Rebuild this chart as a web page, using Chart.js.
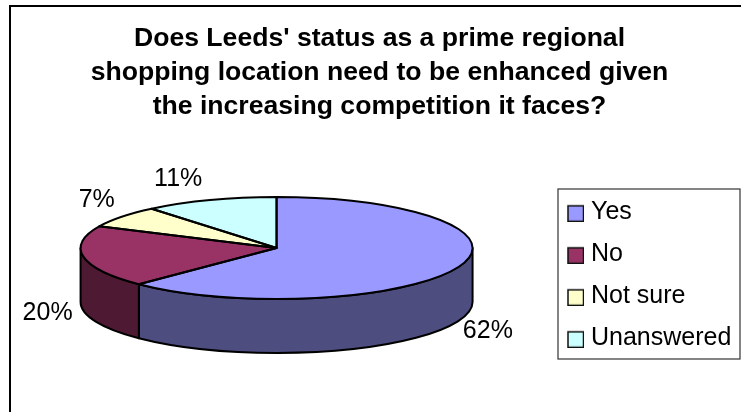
<!DOCTYPE html>
<html lang="en">
<head>
  <meta charset="UTF-8">
  <title>Leeds shopping survey</title>
  <script src="https://cdn.jsdelivr.net/npm/chart.js"></script>
  <style>
    html, body { margin: 0; background: #fff; }
    #wrap { width: 741px; height: 412px; }
  </style>
</head>
<body>
  <div id="wrap"><canvas id="pie" width="741" height="412"></canvas></div>

  <script>
    const titleLines = [
      "Does Leeds' status as a prime regional",
      "shopping location need to be enhanced given",
      "the increasing competition it faces?"
    ];
    const categories = ["Yes", "No", "Not sure", "Unanswered"];
    const shares = [62.4, 19.6, 7, 11];
    const topColors = ["#9999ff", "#993366", "#ffffcc", "#ccffff"];
    const sideColors = ["#4d4d80", "#4d1933", "#80801a", "#668080"];

    const FONT = "'Liberation Sans', Arial, sans-serif";
    const squash = 51 / 196;   // tilt of the pie
    const depth = 54;
    // where each % label sits relative to the rim of its slice
    const labelNudge = [[30, 64], [-36, 56], [-25, -17], [-32, -21]];

    function swatch(color) {
      const c = document.createElement("canvas");
      c.width = 19;
      c.height = 20;
      const g = c.getContext("2d");
      g.fillStyle = color;
      g.strokeStyle = "#111";
      g.lineWidth = 1.5;
      g.fillRect(3, 4, 16, 16);
      g.strokeRect(3, 4, 15.5, 15.5);
      return c;
    }

    const tiltedPie = {
      id: "tiltedPie",
      afterLayout(chart) {
        // legend box and title sit where the original has them
        const lg = chart.legend;
        const w = lg.right - lg.left;
        lg.left = 553.5;
        lg.right = 553.5 + w;
        lg.top = 182.3;
        lg.bottom = 182.3 + 190;
        chart.titleBlock.left += 9;
        chart.titleBlock.right += 9;
      },
      beforeDraw(chart) {
        const ctx = chart.ctx;
        ctx.save();
        ctx.strokeStyle = "#000";
        ctx.lineWidth = 2;
        ctx.beginPath();
        ctx.moveTo(10, 412);
        ctx.lineTo(10, 6);
        ctx.lineTo(741, 6);
        ctx.stroke();
        ctx.strokeStyle = "#333";
        ctx.lineWidth = 1.2;
        ctx.strokeRect(558, 189, 182, 170);
        ctx.restore();
      },
      beforeDatasetsDraw(chart) {
        const ctx = chart.ctx;
        const arcs = chart.getDatasetMeta(0).data;
        ctx.save();
        ctx.lineWidth = 2;
        ctx.strokeStyle = "#000";
        ctx.lineJoin = "round";
        arcs.forEach((a, i) => {
          const from = Math.max(a.startAngle, 0);
          const to = Math.min(a.endAngle, Math.PI);
          if (to <= from) return;
          const ry = a.outerRadius * squash;
          ctx.beginPath();
          ctx.ellipse(a.x, a.y, a.outerRadius, ry, 0, from, to);
          ctx.ellipse(a.x, a.y + depth, a.outerRadius, ry, 0, to, from, true);
          ctx.closePath();
          ctx.fillStyle = sideColors[i];
          ctx.fill();
          ctx.stroke();
        });
        ctx.restore();
        // the library paints the slices inside this squashed space
        const a0 = arcs[0];
        ctx.save();
        ctx.translate(a0.x, a0.y);
        ctx.scale(1, squash);
        ctx.translate(-a0.x, -a0.y);
      },
      afterDatasetsDraw(chart) {
        const ctx = chart.ctx;
        ctx.restore();
        const arcs = chart.getDatasetMeta(0).data;
        ctx.save();
        ctx.lineWidth = 2;
        ctx.strokeStyle = "#000";
        ctx.lineJoin = "round";
        arcs.forEach((a, i) => {
          const ry = a.outerRadius * squash;
          ctx.beginPath();
          ctx.moveTo(a.x, a.y);
          ctx.ellipse(a.x, a.y, a.outerRadius, ry, 0, a.startAngle, a.endAngle);
          ctx.closePath();
          ctx.stroke();

          const mid = (a.startAngle + a.endAngle) / 2;
          const lx = a.x + a.outerRadius * Math.cos(mid) + labelNudge[i][0];
          const ly = a.y + ry * Math.sin(mid) + labelNudge[i][1];
          ctx.fillStyle = "#000";
          ctx.font = "25px " + FONT;
          ctx.textAlign = "center";
          ctx.textBaseline = "middle";
          ctx.fillText(Math.round(shares[i]) + "%", lx, ly);
        });
        ctx.restore();
      }
    };

    new Chart(document.getElementById("pie"), {
      type: "pie",
      data: {
        labels: categories,
        datasets: [{
          data: shares,
          backgroundColor: topColors,
          borderWidth: 0,
          clip: false
        }]
      },
      options: {
        responsive: false,
        animation: false,
        radius: 196,
        layout: { padding: { right: 0, bottom: 39.5 } },
        plugins: {
          tooltip: { enabled: false },
          title: {
            display: true,
            text: titleLines,
            color: "#000",
            font: { family: FONT, size: 26.6, weight: "bold", lineHeight: 34 / 26.6 },
            padding: { top: 21.5, bottom: 0 }
          },
          legend: {
            position: "right",
            align: "start",
            labels: {
              color: "#000",
              font: { family: FONT, size: 25 },
              boxWidth: 8,
              boxHeight: 8,
              padding: 17,
              usePointStyle: true,
              generateLabels: () => categories.map((text, index) => ({
                text,
                index,
                fontColor: "#000",
                pointStyle: swatch(topColors[index])
              }))
            }
          }
        }
      },
      plugins: [tiltedPie]
    });
  </script>
</body>
</html>
